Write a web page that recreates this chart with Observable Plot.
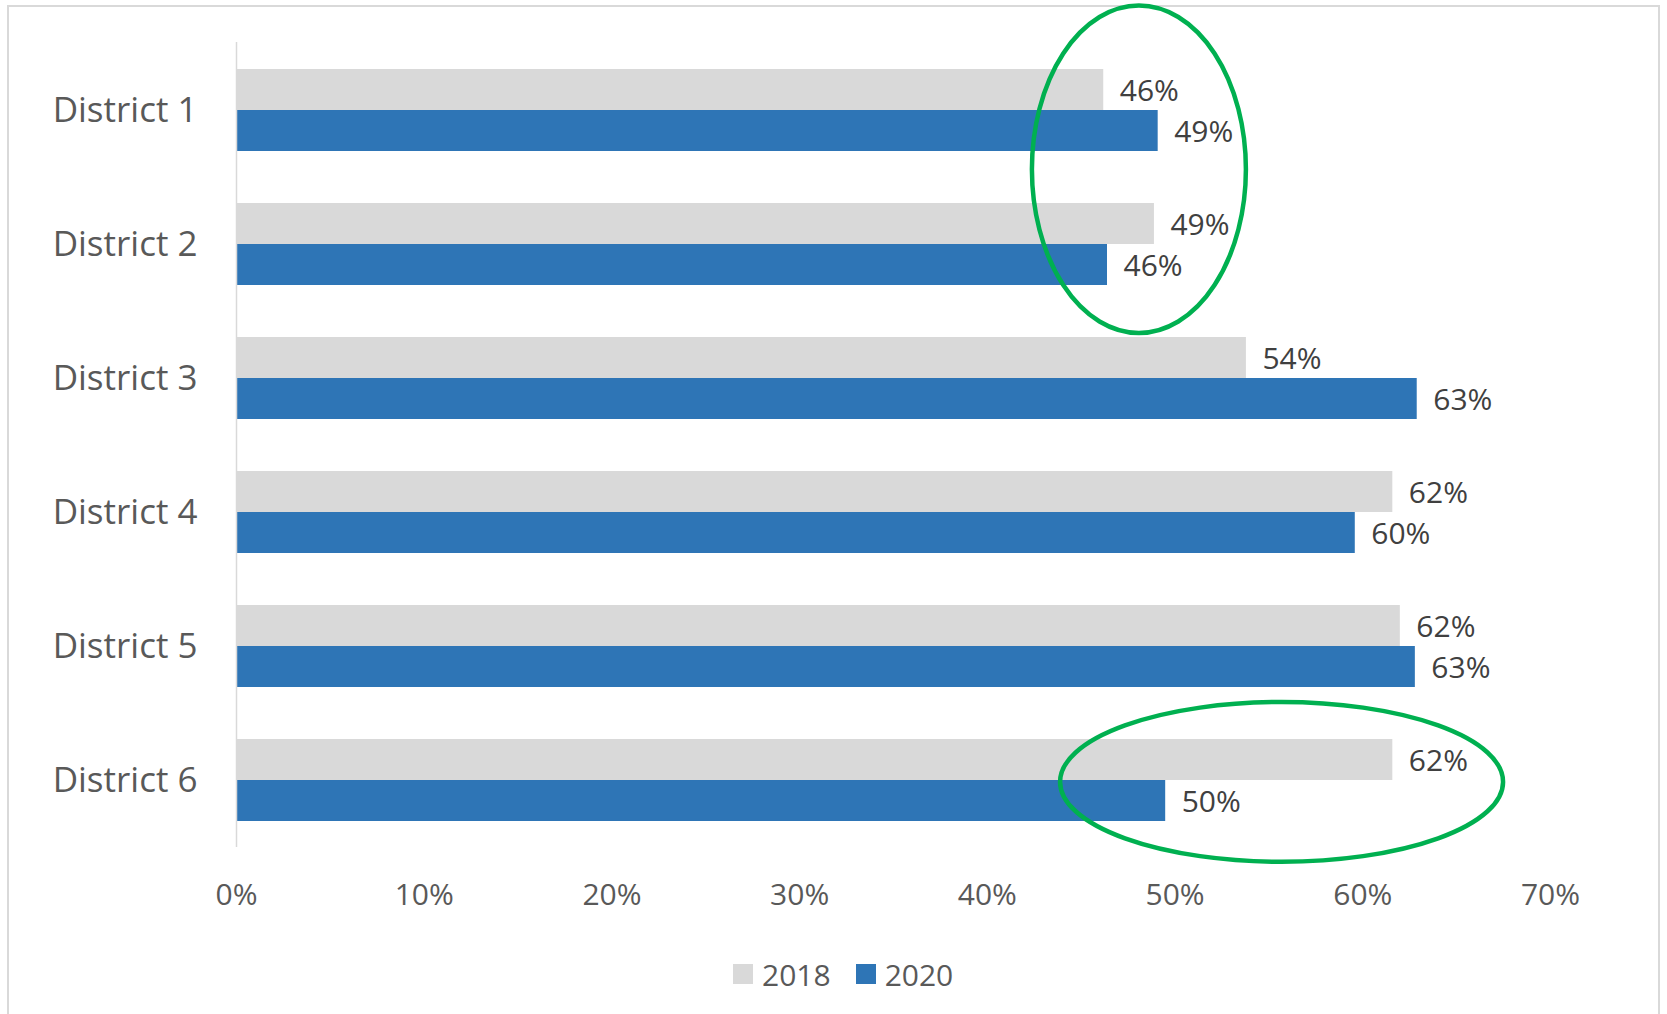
<!DOCTYPE html>
<html>
<head>
<meta charset="utf-8">
<script src="https://cdn.jsdelivr.net/npm/d3@7"></script>
<script src="https://cdn.jsdelivr.net/npm/@observablehq/plot@0.6"></script>
<style>
  html, body { margin: 0; padding: 0; background: #fff; }
  #wrap { position: relative; width: 1667px; height: 1014px; overflow: hidden; font-family: "Open Sans", sans-serif; }
  #frame { position: absolute; left: 7px; top: 5px; width: 1653px; height: 1030px; border: 2px solid #d9d9d9; box-sizing: border-box; }
  #chart { position: absolute; left: 0; top: 0; }
  #legend { position: absolute; left: 733px; top: 954px; height: 40px; display: flex; align-items: center; font-size: 30px; color: #595959; }
  .item { display: flex; align-items: center; margin-right: 25px; }
  .sw { width: 20px; height: 20px; margin-right: 9px; }
</style>
</head>
<body>
<div id="wrap">
  <div id="frame"></div>
  <div id="chart"></div>
  <div id="legend"></div>
</div>
<script>
// ---- data ----
const districts = ["District 1", "District 2", "District 3", "District 4", "District 5", "District 6"];
const values2018 = [46.2, 48.9, 53.8, 61.6, 62.0, 61.6];
const values2020 = [49.1, 46.4, 62.9, 59.6, 62.8, 49.5];
const seriesNames = ["2018", "2020"];
const seriesColors = ["#d9d9d9", "#2e75b6"];
const xTicks = [0, 10, 20, 30, 40, 50, 60, 70];
// annotation ellipses: centre/radius in % (x) and in district steps (y, 0 = District 1)
const ellipseCx = [48.1, 55.7];
const ellipseRx = [5.7, 11.8];
const ellipseCy = [0.442, 5.014];
const ellipseRy = [1.222, 0.596];

const rows2018 = districts.map((d, i) => ({district: d, value: values2018[i]}));
const rows2020 = districts.map((d, i) => ({district: d, value: values2020[i]}));
const ellipses = ellipseCx.map((cx, i) => ({cx, rx: ellipseRx[i], cy: ellipseCy[i], ry: ellipseRy[i]}));

const W = 1667, H = 930;
const half = 41; // half of bar group thickness (px)
const fmt = d => Math.round(d) + "%";

function ellipseMark(index, scales, values, dimensions) {
  const x = scales.x, y = scales.y;
  const bw = y.bandwidth ? y.bandwidth() : 0;
  const c0 = y(districts[0]) + bw / 2;
  const step = y(districts[1]) - y(districts[0]);
  const g = d3.create("svg:g");
  for (const e of ellipses) {
    const cx = x(e.cx), rx = x(e.cx + e.rx) - x(e.cx);
    g.append("ellipse")
      .attr("cx", cx).attr("cy", c0 + e.cy * step)
      .attr("rx", rx).attr("ry", e.ry * step)
      .attr("fill", "none").attr("stroke", "#00b050").attr("stroke-width", 4.5);
  }
  return g.node();
}

const chart = Plot.plot({
  width: W,
  height: H,
  marginLeft: 236,
  marginRight: 117,
  marginTop: 42,
  marginBottom: 83,
  style: {fontFamily: "Open Sans, sans-serif", fontSize: "30px", color: "#595959", background: "transparent", overflow: "visible"},
  x: {domain: [0, 70]},
  y: {domain: districts, paddingInner: 0.39, paddingOuter: 0.195},
  marks: [
    Plot.barX(rows2018, {x: "value", y: "district", fill: seriesColors[0], insetBottom: half}),
    Plot.barX(rows2020, {x: "value", y: "district", fill: seriesColors[1], insetTop: half}),
    Plot.ruleX([0], {stroke: "#d9d9d9", strokeWidth: 1.5}),
    Plot.text(rows2018, {x: "value", y: "district", text: d => fmt(d.value), dx: 16, dy: -half / 2 + 1, textAnchor: "start", fill: "#404040", fontSize: 30}),
    Plot.text(rows2020, {x: "value", y: "district", text: d => fmt(d.value), dx: 16, dy: half / 2 + 1, textAnchor: "start", fill: "#404040", fontSize: 30}),
    Plot.axisY({tickSize: 0, tickPadding: 39, fontSize: 35, label: null}),
    Plot.axisX({ticks: xTicks, tickFormat: d => d + "%", tickSize: 0, tickPadding: 36, fontSize: 30, label: null}),
    ellipseMark
  ]
});
document.getElementById("chart").appendChild(chart);

const legend = document.getElementById("legend");
seriesNames.forEach((name, i) => {
  const item = document.createElement("div");
  item.className = "item";
  const sw = document.createElement("div");
  sw.className = "sw";
  sw.style.background = seriesColors[i];
  const t = document.createElement("span");
  t.textContent = name;
  item.appendChild(sw);
  item.appendChild(t);
  legend.appendChild(item);
});
</script>
</body>
</html>
